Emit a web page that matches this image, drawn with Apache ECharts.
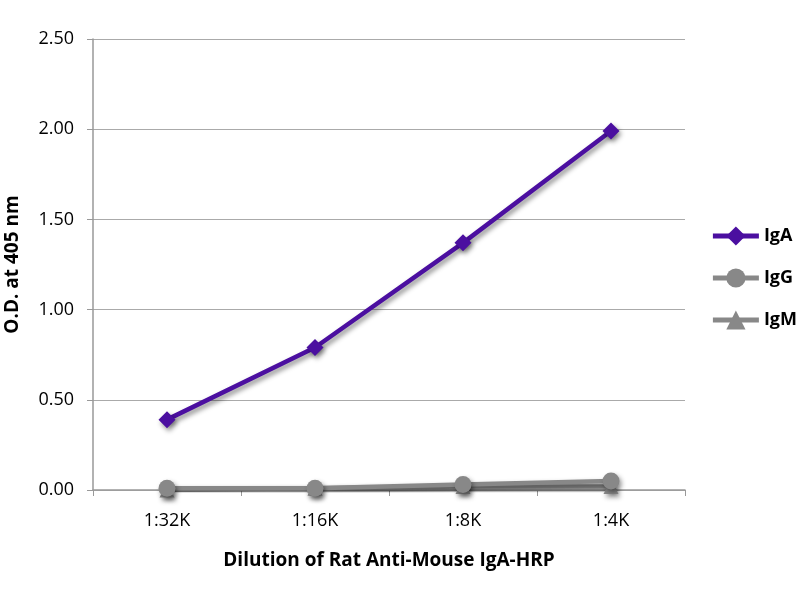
<!DOCTYPE html>
<html><head><meta charset="utf-8">
<script src="https://cdn.jsdelivr.net/npm/echarts@6/dist/echarts.min.js"></script>
<style>html,body{margin:0;padding:0;background:#fff}#c{width:800px;height:600px}</style>
</head><body><div id="c"></div>
<script>
const categories = ['1:32K', '1:16K', '1:8K', '1:4K'];
const igA = [0.39, 0.79, 1.37, 1.99];
const igG = [0.01, 0.01, 0.03, 0.05];
const igM = [0.00, 0.01, 0.02, 0.02];
const yTicks = [0, 0.5, 1.0, 1.5, 2.0, 2.5];

const chart = echarts.init(document.getElementById('c'));
const font = 'Open Sans, Noto Sans, sans-serif';
const shadow = {shadowBlur: 5, shadowColor: 'rgba(0,0,0,0.45)', shadowOffsetX: 2, shadowOffsetY: 3};
function mk(name, data, color, symbol, size) {
  return {
    name, type: 'line', data, symbol, symbolSize: size,
    lineStyle: Object.assign({color, width: 4.5}, shadow),
    itemStyle: Object.assign({color}, shadow),
    emphasis: {disabled: true}, animation: false
  };
}
chart.setOption({
  animation: false,
  grid: {left: 93, right: 115, top: 39, bottom: 110, outerBoundsMode: 'none', containLabel: false},
  legend: {
    orient: 'vertical', right: 3, top: 224, itemGap: 18, align: 'left', padding: 0,
    itemWidth: 46, itemHeight: 24,
    lineStyle: {width: 5, shadowBlur: 0, shadowOffsetX: 0, shadowOffsetY: 0},
    itemStyle: {shadowBlur: 0, shadowOffsetX: 0, shadowOffsetY: 0},
    textStyle: {fontFamily: font, fontSize: 18, fontWeight: 'bold', color: '#000', lineHeight: 24},
    data: ['IgA', 'IgG', 'IgM']
  },
  xAxis: {
    type: 'category', data: categories, boundaryGap: true,
    name: 'Dilution of Rat Anti-Mouse IgA-HRP', nameLocation: 'middle', nameGap: 61,
    nameTextStyle: {fontFamily: font, fontSize: 19, fontWeight: 'bold', color: '#000'},
    axisLine: {lineStyle: {color: '#999', width: 1.5}},
    axisTick: {show: true, length: 6, lineStyle: {color: '#999'}},
    axisLabel: {fontFamily: font, fontSize: 18, color: '#000', margin: 22}
  },
  yAxis: {
    type: 'value', min: 0, max: 2.5, interval: 0.5,
    name: 'O.D. at 405 nm', nameLocation: 'middle', nameGap: 71, nameRotate: 90,
    nameTextStyle: {fontFamily: font, fontSize: 19, fontWeight: 'bold', color: '#000'},
    axisLine: {show: true, lineStyle: {color: '#999', width: 1.5}},
    axisTick: {show: true, length: 6, lineStyle: {color: '#999'}},
    splitLine: {lineStyle: {color: '#aaa', width: 1}},
    axisLabel: {fontFamily: font, fontSize: 18, color: '#000', margin: 19,
      formatter: v => yTicks.includes(v) ? v.toFixed(2) : ''}
  },
  series: [
    mk('IgA', igA, '#4b0fa0', 'diamond', 17),
    mk('IgM', igM, '#888', 'triangle', 15),
    mk('IgG', igG, '#888', 'circle', 17)
  ]
});
</script></body></html>
